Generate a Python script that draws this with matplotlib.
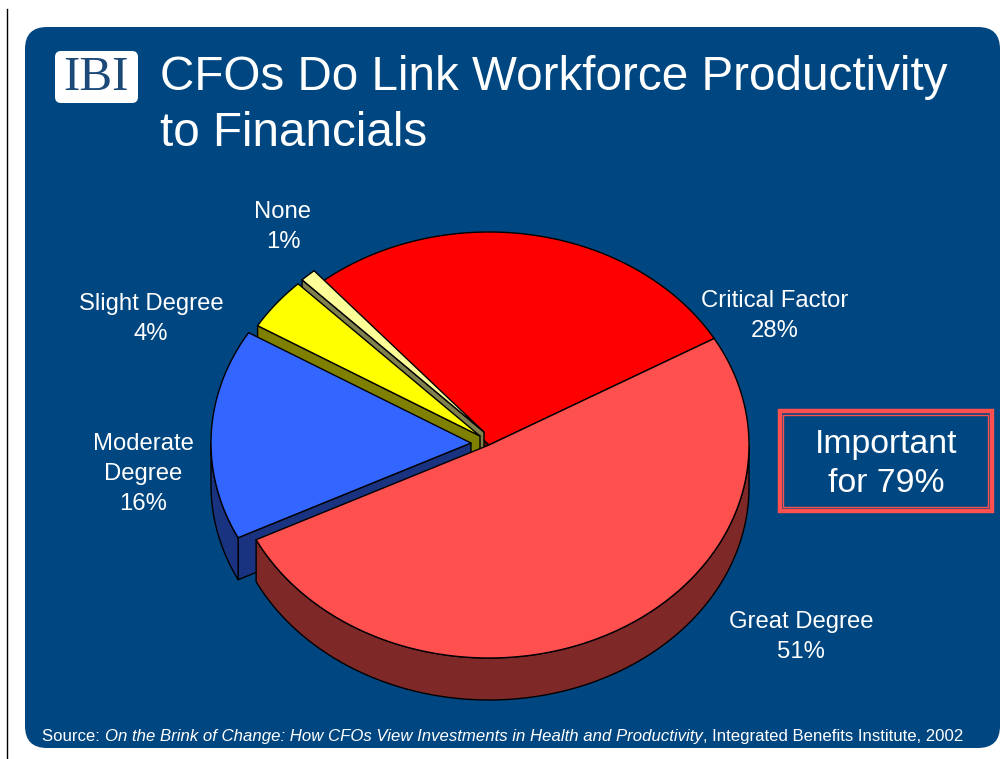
import numpy as np
import matplotlib
matplotlib.use('Agg')
import matplotlib.pyplot as plt
from matplotlib.patches import FancyBboxPatch, Rectangle

plt.rcParams['font.family'] = ['Liberation Sans', 'DejaVu Sans']

# ---------------------------- survey data ----------------------------------
categories = ['Great Degree', 'Moderate\nDegree', 'Slight Degree', 'None', 'Critical Factor']
percents = [51, 16, 4, 1, 28]

top_colors = ['#FF5050', '#3366FF', '#FFFF00', '#FFFF99', '#FF0000']
side_colors = ['#7F2828', '#1A3380', '#808000', '#80804C', '#800000']

# pie layout in pixels: tilted disc, thickness, offset of the pulled-out slices
CX, CY = 489, 445
RX, RY = 260, 213
DEPTH = 42
START = 30
offsets = [(0, 0), (-18, -2), (-9, -9), (-5, -13), (0, 0)]
draw_order = [4, 3, 2, 1, 0]

NAVY = '#004680'

fig = plt.figure(figsize=(10.02, 7.59), dpi=100, facecolor='white')
ax = fig.add_axes([0, 0, 1, 1])
ax.set_xlim(0, 1002)
ax.set_ylim(759, 0)
ax.axis('off')

# page rule and slide background
ax.plot([7.5, 7.5], [9, 759], color='black', lw=1)
ax.add_patch(FancyBboxPatch((25, 27), 975, 721, boxstyle='round,pad=0,rounding_size=22',
                            fc=NAVY, ec='none', zorder=1))

# logo
ax.add_patch(FancyBboxPatch((55, 51), 83, 52, boxstyle='round,pad=0,rounding_size=6',
                            fc='white', ec='none', zorder=2))
ax.text(96.5, 78, 'IBI', family='Liberation Serif', size=35.5, color='#1B4A78', ha='center',
        va='center', zorder=3)

ax.text(160, 90, 'CFOs Do Link Workforce Productivity', color='white', size=34.3, zorder=3)
ax.text(160, 146, 'to Financials', color='white', size=34.3, zorder=3)


def rim(theta, cx, cy):
    t = np.radians(theta)
    return cx + RX * np.cos(t), cy - RY * np.sin(t)


def face_visible(edge_angle, mid_angle, cx, cy):
    # a cut face shows when the slice lies above its edge on screen
    ex, ey = rim(edge_angle, cx, cy)
    mx, my = rim(mid_angle, cx, cy)
    mx, my = (mx + cx) / 2, (my + cy) / 2
    return my < cy + (ey - cy) * (mx - cx) / (ex - cx)


# slices run clockwise from the start angle, Great Degree first
sweeps = np.array(percents) * 3.6
ends = START - np.cumsum(sweeps)
begins = ends + sweeps

z = 5
for i in draw_order:
    cx, cy = CX + offsets[i][0], CY + offsets[i][1]
    a, b = begins[i], ends[i]
    theta = np.linspace(a, b, 200)
    xs, ys = rim(theta, cx, cy)
    mid = (a + b) / 2

    # cut faces
    for k, edge in ((0, a), (-1, b)):
        if face_visible(edge, mid, cx, cy):
            fx = [cx, xs[k], xs[k], cx]
            fy = [cy, ys[k], ys[k] + DEPTH, cy + DEPTH]
            ax.fill(fx, fy, fc=side_colors[i], ec='black', lw=1, joinstyle='round', zorder=z)
    # outer wall, only the part of the rim facing down
    low = np.sin(np.radians(theta)) < 0
    if low.any():
        wx, wy = xs[low], ys[low]
        ax.fill(np.r_[wx, wx[::-1]], np.r_[wy, wy[::-1] + DEPTH], fc=side_colors[i],
                ec='black', lw=1, joinstyle='round', zorder=z)
    # top face
    ax.fill(np.r_[cx, xs], np.r_[cy, ys], fc=top_colors[i], ec='black', lw=1,
            joinstyle='round', zorder=z + 1)
    z += 2

# slice labels
label_pos = [(801, 637), (143, 474), (151, 319), (283, 227), (775, 316)]
for name, pct, (lx, ly) in zip(categories, percents, label_pos):
    ax.text(lx, ly, f'{name}\n{pct}%', color='white', size=17.2, ha='center', va='center',
            linespacing=1.5, zorder=30)

# callout
important = percents[0] + percents[4]
ax.add_patch(Rectangle((780, 411), 212, 100, fc='none', ec='#FF5050', lw=3.2, zorder=20))
ax.add_patch(Rectangle((783.5, 415), 205, 92, fc='none', ec='#FF5050', lw=1, zorder=20))
ax.text(886, 464, f'Important\nfor {important}%', color='white', size=24.3, ha='center',
        va='center', linespacing=1.33, zorder=30)

# source line
src = ax.text(42, 741, 'Source: ', color='white', size=12.05, zorder=30)
r = fig.canvas.get_renderer()
x_end = src.get_window_extent(r).x1 + 1
src2 = ax.text(x_end, 740.5, 'On the Brink of Change: How CFOs View Investments in Health and Productivity',
               color='white', size=12.05, style='italic', zorder=30)
x_end = src2.get_window_extent(r).x1
ax.text(x_end, 740.5, ', Integrated Benefits Institute, 2002', color='white', size=12.05, zorder=30)

fig.savefig('out.png', dpi=100)
